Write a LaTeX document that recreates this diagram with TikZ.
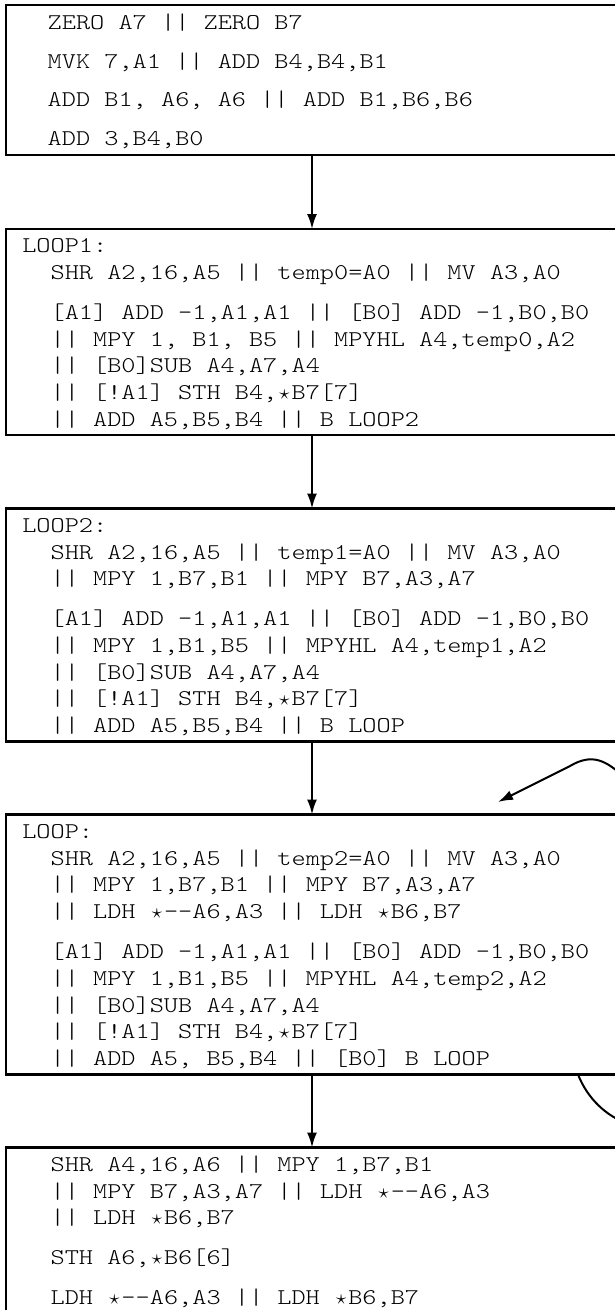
\documentclass[tikz,border=0pt]{standalone}
\usepackage{fontspec}
\usetikzlibrary{arrows.meta}
\newfontfamily\asmfont{lmmonolt10-regular.otf}[FakeStretch=1.2]
\newlength\chw
\newcommand\asmsetup{\asmfont\fontsize{22.5}{26.7}\selectfont\settowidth{\chw}{0}%
  \fontdimen2\font=\chw \fontdimen3\font=0pt \fontdimen4\font=0pt \fontdimen7\font=0pt
  \spaceskip=\chw\relax \xspaceskip=\chw\relax \frenchspacing}
\newcommand\fixsp{\spaceskip=\chw\relax \xspaceskip=\chw\relax \frenchspacing}
\newcommand\lbl[1]{\hspace*{-2\chw}#1}
\newcommand\stp{\makebox[\chw]{$\star$}}
\newcommand\gap{\\[13.3pt]}
\tikzset{
  blk/.style={draw, line width=2.7pt, minimum width=612pt, anchor=north west, inner sep=0pt, outer sep=0pt},
  code/.style={font=\asmsetup, anchor=base west, inner sep=0pt, text width=565pt, align=left,
    execute at begin node=\fixsp},
  flow/.style={line width=2pt, -{Latex[length=15pt,width=10pt]}}
}
\begin{document}
\begin{tikzpicture}[x=1pt,y=1pt]
\useasboundingbox (0,0) rectangle (615,-1310);
\clip (0,0) rectangle (615,-1310);
% blocks
\node[blk, minimum height=150pt] (b1) at (6,-5) {};
\node[blk, minimum height=206pt] (b2) at (6,-229) {};
\node[blk, minimum height=233pt] (b3) at (6,-508.5) {};
\node[blk, minimum height=260pt] (b4) at (6,-814.5) {};
\node[blk, minimum height=220pt] (b5) at (6,-1147.5) {};
% code
\node[code] (t1) at (47.5,-29.8) {ZERO A7 || ZERO B7\\[11.8pt]
MVK 7,A1 || ADD B4,B4,B1\\[11.8pt]
ADD B1, A6, A6 || ADD B1,B6,B6\\[11.8pt]
ADD 3,B4,B0};
\node[code] (t2) at (50.4,-252.8) {\lbl{LOOP1:}\\
SHR A2,16,A5 || temp0=A0 || MV A3,A0\gap
{}[A1] ADD -1,A1,A1 || [B0] ADD -1,B0,B0\\
|| MPY 1, B1, B5 || MPYHL A4,temp0,A2\\
|| [B0]SUB A4,A7,A4\\
|| [!A1] STH B4,\stp B7[7]\\
|| ADD A5,B5,B4 || B LOOP2};
\node[code] (t3) at (50.4,-532.3) {\lbl{LOOP2:}\\
SHR A2,16,A5 || temp1=A0 || MV A3,A0\\
|| MPY 1,B7,B1 || MPY B7,A3,A7\gap
{}[A1] ADD -1,A1,A1 || [B0] ADD -1,B0,B0\\
|| MPY 1,B1,B5 || MPYHL A4,temp1,A2\\
|| [B0]SUB A4,A7,A4\\
|| [!A1] STH B4,\stp B7[7]\\
|| ADD A5,B5,B4 || B LOOP};
\node[code] (t4) at (50.4,-838.5) {\lbl{LOOP:}\\
SHR A2,16,A5 || temp2=A0 || MV A3,A0\\
|| MPY 1,B7,B1 || MPY B7,A3,A7\\
|| LDH \stp-{}-A6,A3 || LDH \stp B6,B7\gap
{}[A1] ADD -1,A1,A1 || [B0] ADD -1,B0,B0\\
|| MPY 1,B1,B5 || MPYHL A4,temp2,A2\\
|| [B0]SUB A4,A7,A4\\
|| [!A1] STH B4,\stp B7[7]\\
|| ADD A5, B5,B4 || [B0] B LOOP};
\node[code] (t5) at (50.4,-1171.4) {SHR A4,16,A6 || MPY 1,B7,B1\\
|| MPY B7,A3,A7 || LDH \stp-{}-A6,A3\\
|| LDH \stp B6,B7\gap
STH A6,\stp B6[6]\gap
LDH \stp-{}-A6,A3 || LDH \stp B6,B7};
% connectors
\draw[flow] (b1) -- (b2);
\draw[flow] (b2) -- (b3);
\draw[flow] (b3) -- (b4);
\draw[flow] (b4) -- (b5);
\coordinate (lpout) at (578,-1074.5);
\coordinate (lpin) at (498,-802);
\draw[flow] (lpout) .. controls (596,-1120) and (650,-1150) .. (720,-1110)
  .. controls (790,-1060) and (700,-840) .. (625,-778)
  .. controls (606,-760) and (592,-753) .. (570,-766) -- (lpin);
\end{tikzpicture}
\end{document}
